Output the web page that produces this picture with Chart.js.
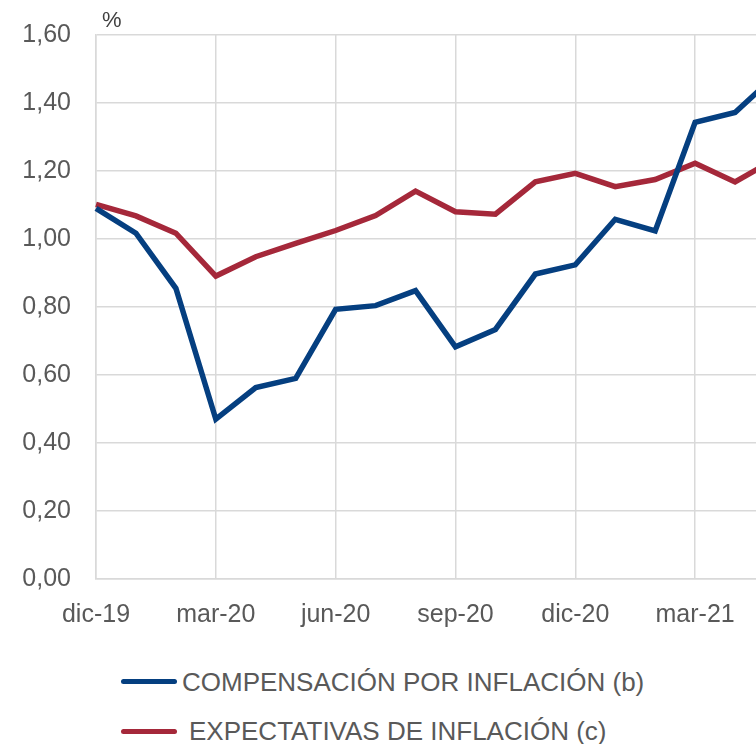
<!DOCTYPE html>
<html>
<head>
<meta charset="utf-8">
<script src="https://cdn.jsdelivr.net/npm/chart.js@4/dist/chart.umd.min.js"></script>
<style>
  html, body { margin: 0; padding: 0; background: #fff; overflow: hidden; width: 756px; height: 744px; }
  #wrap { position: absolute; left: 0; top: -5px; width: 800px; height: 645px; }
  .leg { position: absolute; font-family: "Liberation Sans", Arial, sans-serif; font-size: 26px; color: #595959; white-space: nowrap; line-height: 30px; }
  .sw { position: absolute; height: 5px; border-radius: 3px; }
</style>
</head>
<body>
<div id="wrap"><canvas id="c"></canvas></div>
<div class="sw" id="sw1" style="left:121px; top:679px; width:56px; background:#053f80;"></div>
<div class="leg" id="lg1" style="left:182px; top:667px;"></div>
<div class="sw" id="sw2" style="left:121px; top:729px; width:56px; background:#a5283a;"></div>
<div class="leg" id="lg2" style="left:189px; top:716px;"></div>
<script>
const categories = ["dic-19","ene-20","feb-20","mar-20","abr-20","may-20","jun-20","jul-20","ago-20","sep-20","oct-20","nov-20","dic-20","ene-21","feb-21","mar-21","abr-21","may-21"];
const compensacion = [1.09,1.017,0.855,0.47,0.563,0.59,0.793,0.804,0.848,0.683,0.734,0.897,0.924,1.058,1.024,1.343,1.372,1.48];
const expectativas = [1.102,1.068,1.017,0.891,0.948,0.987,1.025,1.069,1.141,1.08,1.073,1.168,1.193,1.154,1.175,1.223,1.168,1.235];
const seriesNames = ["COMPENSACIÓN POR INFLACIÓN (b)", "EXPECTATIVAS DE INFLACIÓN (c)"];
const yTicks = [0, 0.2, 0.4, 0.6, 0.8, 1.0, 1.2, 1.4, 1.6];
const unitLabel = "%";

document.getElementById('lg1').textContent = seriesNames[0];
document.getElementById('lg2').textContent = seriesNames[1];

const FONT = "'Liberation Sans', Arial, sans-serif";
const GRID = '#d9d9d9';

const unitPlugin = {
  id: 'unit',
  afterDraw(chart) {
    const ctx = chart.ctx;
    ctx.save();
    ctx.font = "22px " + FONT;
    ctx.fillStyle = '#404040';
    ctx.textBaseline = 'alphabetic';
    ctx.textAlign = 'left';
    ctx.fillText(unitLabel, chart.chartArea.left + 6, chart.chartArea.top - 8);
    ctx.restore();
  }
};

new Chart(document.getElementById('c'), {
  type: 'line',
  data: {
    labels: categories,
    datasets: [
      { label: seriesNames[0], data: compensacion, borderColor: '#053f80', borderWidth: 5.5, pointRadius: 0, tension: 0, fill: false },
      { label: seriesNames[1], data: expectativas, borderColor: '#a5283a', borderWidth: 5.5, pointRadius: 0, tension: 0, fill: false }
    ]
  },
  options: {
    responsive: true,
    maintainAspectRatio: false,
    animation: false,
    layout: { padding: { top: 30, left: 0, right: 25, bottom: 0 } },
    plugins: { legend: { display: false }, tooltip: { enabled: false } },
    scales: {
      x: {
        offset: false,
        grid: {
          color: (c) => (c.index % 3 === 0 ? GRID : 'rgba(0,0,0,0)'),
          lineWidth: 1.5,
          drawTicks: false
        },
        border: { color: GRID, width: 1.5 },
        ticks: {
          autoSkip: false, maxRotation: 0, minRotation: 0,
          padding: 21,
          color: '#595959',
          font: { family: FONT, size: 25 },
          callback: function(v, i) { return i % 3 === 0 ? categories[i] : ''; }
        },
        afterFit: (s) => { s.height = 61; }
      },
      y: {
        min: 0, max: 1.6,
        afterBuildTicks: (s) => { s.ticks = yTicks.map(v => ({ value: v })); },
        grid: { color: GRID, lineWidth: 1.5, drawTicks: false },
        border: { color: GRID, width: 1.5 },
        ticks: {
          padding: 25,
          color: '#595959',
          font: { family: FONT, size: 25 },
          callback: (v) => Number(v).toFixed(2).replace('.', ',')
        },
        afterFit: (s) => { s.width = 96; }
      }
    }
  },
  plugins: [unitPlugin]
});
</script>
</body>
</html>
